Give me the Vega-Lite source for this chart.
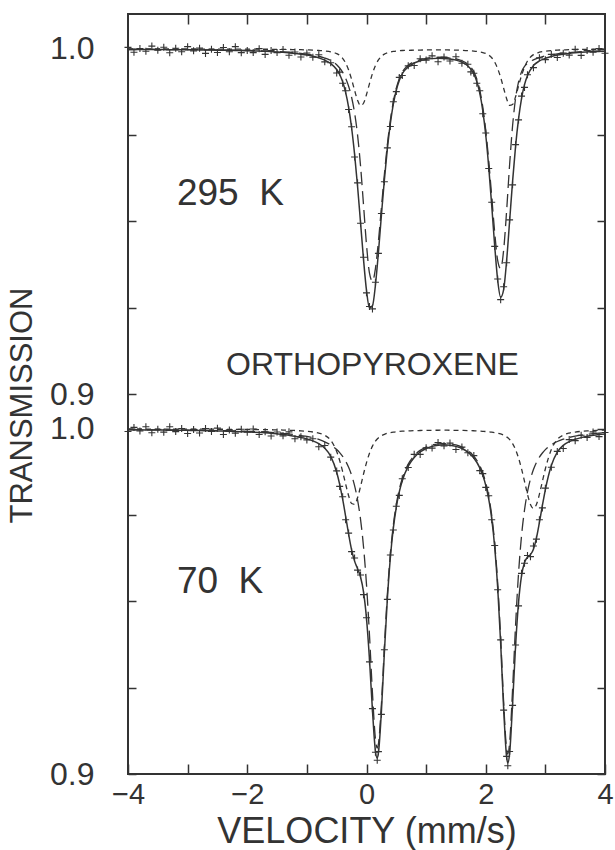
{
  "$schema": "https://vega.github.io/schema/vega-lite/v6.json",
  "width": 477,
  "height": 760,
  "autosize": {"type": "none"},
  "padding": {"left": 128, "top": 14, "right": 10, "bottom": 76},
  "background": "white",
  "config": {
    "font": "Liberation Sans",
    "view": {"stroke": "#333333", "strokeWidth": 2},
    "axis": {"grid": false, "domain": false, "tickColor": "#333333", "tickWidth": 1.5, "labelColor": "#333333", "titleColor": "#333333", "labelFont": "Liberation Sans", "titleFont": "Liberation Sans", "titleFontWeight": "normal"}
  },
  "datasets": {
    "spec": [
      {"p":"A","v":-4.0,"o":1.00044,"f":0.99984,"m":0.99986,"n":0.99998},
      {"p":"A","v":-3.9,"o":0.99903,"f":0.99983,"m":0.99985,"n":0.99998},
      {"p":"A","v":-3.8,"o":1.00012,"f":0.99982,"m":0.99984,"n":0.99998},
      {"p":"A","v":-3.7,"o":0.99931,"f":0.99981,"m":0.99983,"n":0.99998},
      {"p":"A","v":-3.6,"o":1.0008,"f":0.9998,"m":0.99983,"n":0.99997},
      {"p":"A","v":-3.5,"o":0.99959,"f":0.99979,"m":0.99982,"n":0.99997},
      {"p":"A","v":-3.4,"o":1.00048,"f":0.99978,"m":0.99981,"n":0.99997},
      {"p":"A","v":-3.3,"o":0.99887,"f":0.99977,"m":0.9998,"n":0.99997},
      {"p":"A","v":-3.2,"o":1.00016,"f":0.99976,"m":0.9998,"n":0.99996},
      {"p":"A","v":-3.1,"o":0.99915,"f":0.99975,"m":0.99979,"n":0.99996},
      {"p":"A","v":-3.0,"o":1.00064,"f":0.99974,"m":0.99978,"n":0.99996},
      {"p":"A","v":-2.9,"o":0.99942,"f":0.99972,"m":0.99976,"n":0.99996},
      {"p":"A","v":-2.8,"o":1.0002,"f":0.9997,"m":0.99975,"n":0.99995},
      {"p":"A","v":-2.7,"o":0.99868,"f":0.99968,"m":0.99973,"n":0.99995},
      {"p":"A","v":-2.6,"o":0.99986,"f":0.99966,"m":0.99971,"n":0.99995},
      {"p":"A","v":-2.5,"o":0.99893,"f":0.99963,"m":0.99969,"n":0.99994},
      {"p":"A","v":-2.4,"o":1.0004,"f":0.9996,"m":0.99966,"n":0.99994},
      {"p":"A","v":-2.3,"o":0.99917,"f":0.99957,"m":0.99964,"n":0.99993},
      {"p":"A","v":-2.2,"o":1.00064,"f":0.99954,"m":0.99961,"n":0.99993},
      {"p":"A","v":-2.1,"o":0.9989,"f":0.9995,"m":0.99958,"n":0.99992},
      {"p":"A","v":-2.0,"o":0.99956,"f":0.99946,"m":0.99954,"n":0.99992},
      {"p":"A","v":-1.9,"o":0.99891,"f":0.99941,"m":0.9995,"n":0.99991},
      {"p":"A","v":-1.8,"o":1.00006,"f":0.99936,"m":0.99946,"n":0.9999},
      {"p":"A","v":-1.7,"o":0.9984,"f":0.9993,"m":0.99941,"n":0.99989},
      {"p":"A","v":-1.6,"o":0.99951,"f":0.99921,"m":0.99933,"n":0.99988},
      {"p":"A","v":-1.5,"o":0.99891,"f":0.99911,"m":0.99924,"n":0.99987},
      {"p":"A","v":-1.4,"o":0.9998,"f":0.999,"m":0.99915,"n":0.99985},
      {"p":"A","v":-1.3,"o":0.99815,"f":0.99885,"m":0.99903,"n":0.99982},
      {"p":"A","v":-1.2,"o":0.99908,"f":0.99868,"m":0.99889,"n":0.99979},
      {"p":"A","v":-1.1,"o":0.99766,"f":0.99846,"m":0.99871,"n":0.99975},
      {"p":"A","v":-1.0,"o":0.9988,"f":0.9982,"m":0.9985,"n":0.9997},
      {"p":"A","v":-0.9,"o":0.99756,"f":0.99786,"m":0.99823,"n":0.99963},
      {"p":"A","v":-0.8,"o":0.99829,"f":0.99739,"m":0.99786,"n":0.99953},
      {"p":"A","v":-0.7,"o":0.99624,"f":0.99674,"m":0.99735,"n":0.99939},
      {"p":"A","v":-0.6,"o":0.99596,"f":0.99576,"m":0.99662,"n":0.99914},
      {"p":"A","v":-0.5,"o":0.99302,"f":0.99402,"m":0.9954,"n":0.99862},
      {"p":"A","v":-0.45,"o":0.99327,"f":0.99257,"m":0.99446,"n":0.99811},
      {"p":"A","v":-0.4,"o":0.99005,"f":0.99045,"m":0.9932,"n":0.99725},
      {"p":"A","v":-0.35,"o":0.98788,"f":0.98738,"m":0.99148,"n":0.9959},
      {"p":"A","v":-0.3,"o":0.98245,"f":0.98305,"m":0.98918,"n":0.99387},
      {"p":"A","v":-0.25,"o":0.97744,"f":0.97714,"m":0.98598,"n":0.99116},
      {"p":"A","v":-0.2,"o":0.96868,"f":0.96948,"m":0.98147,"n":0.98801},
      {"p":"A","v":-0.15,"o":0.96118,"f":0.96018,"m":0.97508,"n":0.9851},
      {"p":"A","v":-0.1,"o":0.94946,"f":0.94966,"m":0.96611,"n":0.98355},
      {"p":"A","v":-0.05,"o":0.93962,"f":0.93902,"m":0.95478,"n":0.98424},
      {"p":"A","v":0.0,"o":0.92931,"f":0.93001,"m":0.94325,"n":0.98676},
      {"p":"A","v":0.05,"o":0.92536,"f":0.92496,"m":0.93503,"n":0.98993},
      {"p":"A","v":0.1,"o":0.92465,"f":0.92555,"m":0.93269,"n":0.99286},
      {"p":"A","v":0.15,"o":0.93236,"f":0.93156,"m":0.93639,"n":0.99517},
      {"p":"A","v":0.2,"o":0.94075,"f":0.94105,"m":0.94426,"n":0.99679},
      {"p":"A","v":0.25,"o":0.95229,"f":0.95179,"m":0.95396,"n":0.99783},
      {"p":"A","v":0.3,"o":0.9615,"f":0.9621,"m":0.96363,"n":0.99847},
      {"p":"A","v":0.35,"o":0.9713,"f":0.9711,"m":0.97225,"n":0.99885},
      {"p":"A","v":0.4,"o":0.97749,"f":0.97839,"m":0.9793,"n":0.99909},
      {"p":"A","v":0.45,"o":0.98466,"f":0.98396,"m":0.98471,"n":0.99925},
      {"p":"A","v":0.5,"o":0.98761,"f":0.98801,"m":0.98864,"n":0.99937},
      {"p":"A","v":0.55,"o":0.99173,"f":0.99083,"m":0.99137,"n":0.99946},
      {"p":"A","v":0.6,"o":0.99229,"f":0.99279,"m":0.99326,"n":0.99953},
      {"p":"A","v":0.7,"o":0.99508,"f":0.99478,"m":0.99522,"n":0.99956},
      {"p":"A","v":0.8,"o":0.9952,"f":0.9959,"m":0.99628,"n":0.99962},
      {"p":"A","v":0.9,"o":0.99715,"f":0.99655,"m":0.99689,"n":0.99966},
      {"p":"A","v":1.0,"o":0.99675,"f":0.99695,"m":0.99726,"n":0.99969},
      {"p":"A","v":1.1,"o":0.99797,"f":0.99717,"m":0.99747,"n":0.9997},
      {"p":"A","v":1.2,"o":0.99627,"f":0.99727,"m":0.99757,"n":0.9997},
      {"p":"A","v":1.3,"o":0.99764,"f":0.99724,"m":0.99755,"n":0.99969},
      {"p":"A","v":1.4,"o":0.99647,"f":0.99707,"m":0.9974,"n":0.99967},
      {"p":"A","v":1.5,"o":0.99773,"f":0.99673,"m":0.99709,"n":0.99964},
      {"p":"A","v":1.6,"o":0.99584,"f":0.99614,"m":0.99656,"n":0.99958},
      {"p":"A","v":1.7,"o":0.99555,"f":0.99505,"m":0.99556,"n":0.99949},
      {"p":"A","v":1.75,"o":0.99333,"f":0.99413,"m":0.9947,"n":0.99943},
      {"p":"A","v":1.8,"o":0.99293,"f":0.99273,"m":0.99338,"n":0.99935},
      {"p":"A","v":1.85,"o":0.99003,"f":0.99053,"m":0.99128,"n":0.99925},
      {"p":"A","v":1.9,"o":0.98786,"f":0.98716,"m":0.98804,"n":0.99912},
      {"p":"A","v":1.95,"o":0.98122,"f":0.98212,"m":0.98318,"n":0.99894},
      {"p":"A","v":2.0,"o":0.97563,"f":0.97503,"m":0.97637,"n":0.99866},
      {"p":"A","v":2.05,"o":0.96535,"f":0.96575,"m":0.96756,"n":0.99819},
      {"p":"A","v":2.1,"o":0.95556,"f":0.95466,"m":0.95724,"n":0.99742},
      {"p":"A","v":2.15,"o":0.94276,"f":0.94296,"m":0.9468,"n":0.99616},
      {"p":"A","v":2.2,"o":0.9333,"f":0.933,"m":0.93873,"n":0.99427},
      {"p":"A","v":2.25,"o":0.92734,"f":0.92804,"m":0.93634,"n":0.9917},
      {"p":"A","v":2.3,"o":0.93106,"f":0.93026,"m":0.94166,"n":0.9886},
      {"p":"A","v":2.35,"o":0.93804,"f":0.93864,"m":0.95308,"n":0.98556},
      {"p":"A","v":2.4,"o":0.95045,"f":0.95005,"m":0.96641,"n":0.98364},
      {"p":"A","v":2.45,"o":0.9606,"f":0.9616,"m":0.97772,"n":0.98388},
      {"p":"A","v":2.5,"o":0.97224,"f":0.97174,"m":0.98562,"n":0.98612},
      {"p":"A","v":2.55,"o":0.97941,"f":0.97971,"m":0.99046,"n":0.98925},
      {"p":"A","v":2.6,"o":0.98631,"f":0.98561,"m":0.99333,"n":0.99228},
      {"p":"A","v":2.65,"o":0.98883,"f":0.98963,"m":0.99491,"n":0.99472},
      {"p":"A","v":2.7,"o":0.99249,"f":0.99229,"m":0.99581,"n":0.99648},
      {"p":"A","v":2.8,"o":0.99455,"f":0.99515,"m":0.99682,"n":0.99833},
      {"p":"A","v":2.9,"o":0.99739,"f":0.99649,"m":0.99747,"n":0.99902},
      {"p":"A","v":3.0,"o":0.99688,"f":0.99728,"m":0.99796,"n":0.99932},
      {"p":"A","v":3.1,"o":0.99841,"f":0.99781,"m":0.9983,"n":0.99951},
      {"p":"A","v":3.2,"o":0.99749,"f":0.99819,"m":0.99856,"n":0.99963},
      {"p":"A","v":3.3,"o":0.99876,"f":0.99846,"m":0.99876,"n":0.9997},
      {"p":"A","v":3.4,"o":0.99819,"f":0.99869,"m":0.99893,"n":0.99976},
      {"p":"A","v":3.5,"o":0.99986,"f":0.99886,"m":0.99906,"n":0.9998},
      {"p":"A","v":3.6,"o":0.9981,"f":0.999,"m":0.99917,"n":0.99983},
      {"p":"A","v":3.7,"o":0.99951,"f":0.99911,"m":0.99925,"n":0.99986},
      {"p":"A","v":3.8,"o":0.999,"f":0.9992,"m":0.99932,"n":0.99988},
      {"p":"A","v":3.9,"o":1.00007,"f":0.99927,"m":0.99937,"n":0.9999},
      {"p":"A","v":4.0,"o":0.99874,"f":0.99934,"m":0.99943,"n":0.99991},
      {"p":"B","v":-4.0,"o":0.99924,"f":0.99974,"m":0.99978,"n":0.99996},
      {"p":"B","v":-3.9,"o":1.00043,"f":0.99973,"m":0.99977,"n":0.99996},
      {"p":"B","v":-3.8,"o":0.99941,"f":0.99971,"m":0.99975,"n":0.99996},
      {"p":"B","v":-3.7,"o":1.0006,"f":0.9997,"m":0.99974,"n":0.99995},
      {"p":"B","v":-3.6,"o":0.99888,"f":0.99968,"m":0.99973,"n":0.99995},
      {"p":"B","v":-3.5,"o":0.99986,"f":0.99966,"m":0.99971,"n":0.99995},
      {"p":"B","v":-3.4,"o":0.99904,"f":0.99964,"m":0.9997,"n":0.99994},
      {"p":"B","v":-3.3,"o":1.00062,"f":0.99962,"m":0.99968,"n":0.99994},
      {"p":"B","v":-3.2,"o":0.99921,"f":0.99961,"m":0.99967,"n":0.99993},
      {"p":"B","v":-3.1,"o":1.00009,"f":0.99959,"m":0.99966,"n":0.99993},
      {"p":"B","v":-3.0,"o":0.99867,"f":0.99957,"m":0.99964,"n":0.99993},
      {"p":"B","v":-2.9,"o":0.99984,"f":0.99954,"m":0.99962,"n":0.99992},
      {"p":"B","v":-2.8,"o":0.99881,"f":0.99951,"m":0.99959,"n":0.99992},
      {"p":"B","v":-2.7,"o":1.00008,"f":0.99948,"m":0.99957,"n":0.99991},
      {"p":"B","v":-2.6,"o":0.99924,"f":0.99944,"m":0.99954,"n":0.9999},
      {"p":"B","v":-2.5,"o":1.0002,"f":0.9994,"m":0.99951,"n":0.99989},
      {"p":"B","v":-2.4,"o":0.99835,"f":0.99935,"m":0.99947,"n":0.99988},
      {"p":"B","v":-2.3,"o":0.9997,"f":0.9993,"m":0.99943,"n":0.99987},
      {"p":"B","v":-2.2,"o":0.99875,"f":0.99925,"m":0.99939,"n":0.99986},
      {"p":"B","v":-2.1,"o":0.99989,"f":0.99919,"m":0.99934,"n":0.99985},
      {"p":"B","v":-2.0,"o":0.99903,"f":0.99913,"m":0.99929,"n":0.99984},
      {"p":"B","v":-1.9,"o":0.99995,"f":0.99905,"m":0.99923,"n":0.99982},
      {"p":"B","v":-1.8,"o":0.99837,"f":0.99897,"m":0.99917,"n":0.9998},
      {"p":"B","v":-1.7,"o":0.99917,"f":0.99887,"m":0.99909,"n":0.99978},
      {"p":"B","v":-1.6,"o":0.99794,"f":0.99874,"m":0.99899,"n":0.99975},
      {"p":"B","v":-1.5,"o":0.99907,"f":0.99857,"m":0.99886,"n":0.99971},
      {"p":"B","v":-1.4,"o":0.99798,"f":0.99838,"m":0.99872,"n":0.99966},
      {"p":"B","v":-1.3,"o":0.99913,"f":0.99813,"m":0.99853,"n":0.9996},
      {"p":"B","v":-1.2,"o":0.99715,"f":0.99785,"m":0.99833,"n":0.99952},
      {"p":"B","v":-1.1,"o":0.99769,"f":0.99749,"m":0.99807,"n":0.99942},
      {"p":"B","v":-1.0,"o":0.9968,"f":0.9971,"m":0.99781,"n":0.99929},
      {"p":"B","v":-0.9,"o":0.99712,"f":0.99652,"m":0.99743,"n":0.99909},
      {"p":"B","v":-0.8,"o":0.9948,"f":0.9957,"m":0.99693,"n":0.99877},
      {"p":"B","v":-0.7,"o":0.99519,"f":0.99439,"m":0.99625,"n":0.99814},
      {"p":"B","v":-0.6,"o":0.99181,"f":0.99201,"m":0.99533,"n":0.99668},
      {"p":"B","v":-0.5,"o":0.98782,"f":0.98742,"m":0.994,"n":0.99342},
      {"p":"B","v":-0.45,"o":0.98333,"f":0.98393,"m":0.99311,"n":0.99082},
      {"p":"B","v":-0.4,"o":0.98033,"f":0.97963,"m":0.99202,"n":0.98761},
      {"p":"B","v":-0.35,"o":0.97366,"f":0.97466,"m":0.99064,"n":0.98402},
      {"p":"B","v":-0.3,"o":0.9698,"f":0.9695,"m":0.98887,"n":0.98063},
      {"p":"B","v":-0.25,"o":0.96444,"f":0.96494,"m":0.98658,"n":0.97837},
      {"p":"B","v":-0.2,"o":0.96258,"f":0.96168,"m":0.98354,"n":0.97814},
      {"p":"B","v":-0.15,"o":0.95908,"f":0.95948,"m":0.97943,"n":0.98005},
      {"p":"B","v":-0.1,"o":0.95767,"f":0.95707,"m":0.97377,"n":0.9833},
      {"p":"B","v":-0.05,"o":0.95197,"f":0.95277,"m":0.96586,"n":0.98691},
      {"p":"B","v":0.0,"o":0.94529,"f":0.94509,"m":0.95487,"n":0.99022},
      {"p":"B","v":0.05,"o":0.9325,"f":0.9332,"m":0.94027,"n":0.99293},
      {"p":"B","v":0.1,"o":0.91894,"f":0.91844,"m":0.92344,"n":0.995},
      {"p":"B","v":0.15,"o":0.90629,"f":0.90659,"m":0.91016,"n":0.99643},
      {"p":"B","v":0.18,"o":0.90398,"f":0.90458,"m":0.90752,"n":0.99706},
      {"p":"B","v":0.2,"o":0.90648,"f":0.90608,"m":0.9087,"n":0.99738},
      {"p":"B","v":0.25,"o":0.91729,"f":0.91819,"m":0.92018,"n":0.99801},
      {"p":"B","v":0.3,"o":0.936,"f":0.9353,"m":0.93687,"n":0.99843},
      {"p":"B","v":0.35,"o":0.9506,"f":0.9508,"m":0.95209,"n":0.99871},
      {"p":"B","v":0.4,"o":0.96344,"f":0.96264,"m":0.96375,"n":0.9989},
      {"p":"B","v":0.45,"o":0.9707,"f":0.9712,"m":0.97216,"n":0.99904},
      {"p":"B","v":0.5,"o":0.97759,"f":0.97729,"m":0.97814,"n":0.99915},
      {"p":"B","v":0.55,"o":0.98072,"f":0.98172,"m":0.98248,"n":0.99924},
      {"p":"B","v":0.6,"o":0.98555,"f":0.98495,"m":0.98563,"n":0.99932},
      {"p":"B","v":0.7,"o":0.98879,"f":0.98919,"m":0.98979,"n":0.9994},
      {"p":"B","v":0.8,"o":0.99262,"f":0.99172,"m":0.99225,"n":0.99947},
      {"p":"B","v":0.9,"o":0.9926,"f":0.9933,"m":0.99377,"n":0.99953},
      {"p":"B","v":1.0,"o":0.9945,"f":0.9943,"m":0.99473,"n":0.99957},
      {"p":"B","v":1.1,"o":0.99442,"f":0.99492,"m":0.99533,"n":0.99959},
      {"p":"B","v":1.2,"o":0.99605,"f":0.99525,"m":0.99565,"n":0.9996},
      {"p":"B","v":1.3,"o":0.99507,"f":0.99537,"m":0.99576,"n":0.99961},
      {"p":"B","v":1.4,"o":0.99587,"f":0.99527,"m":0.99567,"n":0.9996},
      {"p":"B","v":1.5,"o":0.99403,"f":0.99493,"m":0.99535,"n":0.99958},
      {"p":"B","v":1.6,"o":0.99471,"f":0.99431,"m":0.99475,"n":0.99956},
      {"p":"B","v":1.7,"o":0.99306,"f":0.99326,"m":0.99375,"n":0.99951},
      {"p":"B","v":1.8,"o":0.99225,"f":0.99155,"m":0.9921,"n":0.99945},
      {"p":"B","v":1.9,"o":0.9879,"f":0.9887,"m":0.98934,"n":0.99936},
      {"p":"B","v":1.95,"o":0.98704,"f":0.98654,"m":0.98724,"n":0.9993},
      {"p":"B","v":2.0,"o":0.98304,"f":0.98364,"m":0.98441,"n":0.99923},
      {"p":"B","v":2.05,"o":0.98062,"f":0.97962,"m":0.98047,"n":0.99915},
      {"p":"B","v":2.1,"o":0.97366,"f":0.97396,"m":0.97491,"n":0.99905},
      {"p":"B","v":2.15,"o":0.96619,"f":0.96579,"m":0.96687,"n":0.99892},
      {"p":"B","v":2.2,"o":0.95339,"f":0.95409,"m":0.95534,"n":0.99875},
      {"p":"B","v":2.25,"o":0.93885,"f":0.93795,"m":0.93943,"n":0.99852},
      {"p":"B","v":2.3,"o":0.9185,"f":0.919,"m":0.92082,"n":0.99818},
      {"p":"B","v":2.35,"o":0.90511,"f":0.90491,"m":0.90724,"n":0.99767},
      {"p":"B","v":2.37,"o":0.9024,"f":0.9032,"m":0.9058,"n":0.9974},
      {"p":"B","v":2.4,"o":0.90652,"f":0.90592,"m":0.90901,"n":0.99691},
      {"p":"B","v":2.45,"o":0.91988,"f":0.92028,"m":0.92457,"n":0.99571},
      {"p":"B","v":2.5,"o":0.93738,"f":0.93708,"m":0.9431,"n":0.99398},
      {"p":"B","v":2.55,"o":0.94872,"f":0.94972,"m":0.95818,"n":0.99154},
      {"p":"B","v":2.6,"o":0.95813,"f":0.95743,"m":0.96899,"n":0.98844},
      {"p":"B","v":2.65,"o":0.96108,"f":0.96128,"m":0.97649,"n":0.98479},
      {"p":"B","v":2.7,"o":0.96332,"f":0.96282,"m":0.98175,"n":0.98107},
      {"p":"B","v":2.75,"o":0.96297,"f":0.96357,"m":0.98547,"n":0.9781},
      {"p":"B","v":2.8,"o":0.96605,"f":0.96515,"m":0.98821,"n":0.97694},
      {"p":"B","v":2.85,"o":0.96804,"f":0.96834,"m":0.99024,"n":0.9781},
      {"p":"B","v":2.9,"o":0.97367,"f":0.97287,"m":0.9918,"n":0.98107},
      {"p":"B","v":2.95,"o":0.9771,"f":0.9778,"m":0.99301,"n":0.98479},
      {"p":"B","v":3.0,"o":0.98282,"f":0.98242,"m":0.99398,"n":0.98844},
      {"p":"B","v":3.1,"o":0.98888,"f":0.98938,"m":0.99538,"n":0.994},
      {"p":"B","v":3.2,"o":0.99347,"f":0.99327,"m":0.99634,"n":0.99693},
      {"p":"B","v":3.3,"o":0.99432,"f":0.99522,"m":0.99702,"n":0.9982},
      {"p":"B","v":3.4,"o":0.99689,"f":0.99629,"m":0.99751,"n":0.99878},
      {"p":"B","v":3.5,"o":0.99658,"f":0.99698,"m":0.9979,"n":0.99908},
      {"p":"B","v":3.6,"o":0.99816,"f":0.99746,"m":0.99819,"n":0.99927},
      {"p":"B","v":3.7,"o":0.99753,"f":0.99783,"m":0.99842,"n":0.99941},
      {"p":"B","v":3.8,"o":0.99912,"f":0.99812,"m":0.99861,"n":0.99951},
      {"p":"B","v":3.9,"o":0.99775,"f":0.99835,"m":0.99877,"n":0.99958},
      {"p":"B","v":4.0,"o":0.99893,"f":0.99853,"m":0.99889,"n":0.99964}
    ],
    "temps": [
      {"p":"A","t":"295\u00a0 K","v":-3.18,"y":0.95475},
      {"p":"B","t":"70\u00a0 K","v":-3.18,"y":0.95246}
    ],
    "sample": [
      {"t":"ORTHOPYROXENE","v":0.1,"y":0.90548}
    ]
  },
  "resolve": {"scale": {"x": "independent", "y": "independent"}, "axis": {"x": "independent", "y": "independent"}},
  "layer": [
    {
      "data": {"name": "spec"},
      "transform": [{"filter": "datum.p == 'A'"}],
      "mark": {"type": "line", "color": "#333333", "strokeWidth": 1.3, "strokeDash": [5, 4], "interpolate": "monotone"},
      "encoding": {
        "x": {"field": "v", "type": "quantitative", "scale": {"domain": [-4, 4], "nice": false, "zero": false}, "axis": null},
        "y": {"field": "n", "type": "quantitative", "scale": {"domain": [0.9, 1.0101], "range": [380, 0], "nice": false, "zero": false}, "axis": null}
      }
    },
    {
      "data": {"name": "spec"},
      "transform": [{"filter": "datum.p == 'A'"}],
      "mark": {"type": "line", "color": "#333333", "strokeWidth": 1.3, "strokeDash": [13, 6], "interpolate": "monotone"},
      "encoding": {
        "x": {"field": "v", "type": "quantitative", "scale": {"domain": [-4, 4], "nice": false, "zero": false}, "axis": null},
        "y": {"field": "m", "type": "quantitative", "scale": {"domain": [0.9, 1.0101], "range": [380, 0], "nice": false, "zero": false}, "axis": null}
      }
    },
    {
      "data": {"name": "spec"},
      "transform": [{"filter": "datum.p == 'A'"}],
      "mark": {"type": "point", "shape": "M-1,0L1,0M0,-1L0,1", "filled": false, "size": 49, "strokeWidth": 1.1, "color": "#333333", "opacity": 1},
      "encoding": {
        "x": {"field": "v", "type": "quantitative", "scale": {"domain": [-4, 4], "nice": false, "zero": false},
              "axis": {"orient": "top", "values": [-3, -2, -1, 0, 1, 2, 3], "tickSize": -10, "labels": false, "title": null}},
        "y": {"field": "o", "type": "quantitative", "scale": {"domain": [0.9, 1.0101], "range": [380, 0], "nice": false, "zero": false},
              "axis": {"orient": "left", "values": [0.9, 0.925, 0.95, 0.975, 1.0], "tickSize": -8,
                       "labelExpr": "datum.value == 0.9 || datum.value == 1 ? format(datum.value, '.1f') : ''",
                       "labelFontSize": 32, "labelPadding": 42, "labelOverlap": false, "labelBound": false,
                       "title": "TRANSMISSION", "titleFontSize": 31, "titleAngle": 270, "titleAlign": "center", "titleBaseline": "alphabetic", "titleX": -97, "titleY": 391}}
      }
    },
    {
      "data": {"name": "spec"},
      "transform": [{"filter": "datum.p == 'A'"}],
      "mark": {"type": "line", "color": "#333333", "strokeWidth": 1.5, "interpolate": "monotone"},
      "encoding": {
        "x": {"field": "v", "type": "quantitative", "scale": {"domain": [-4, 4], "nice": false, "zero": false}, "axis": null},
        "y": {"field": "f", "type": "quantitative", "scale": {"domain": [0.9, 1.0101], "range": [380, 0], "nice": false, "zero": false}, "axis": null}
      }
    },
    {
      "mark": {"type": "rule", "color": "#333333", "strokeWidth": 1.3, "strokeDash": [10, 7]},
      "encoding": {
        "y": {"datum": 0.9, "type": "quantitative", "scale": {"domain": [0.9, 1.0101], "range": [380, 0], "nice": false, "zero": false},
              "axis": {"orient": "right", "values": [0.9, 0.925, 0.95, 0.975, 1.0], "tickSize": -8, "labels": false, "title": null}}
      }
    },
    {
      "data": {"name": "temps"},
      "transform": [{"filter": "datum.p == 'A'"}],
      "mark": {"type": "text", "align": "left", "baseline": "alphabetic", "fontSize": 37, "color": "#333333", "font": "Liberation Sans"},
      "encoding": {
        "x": {"field": "v", "type": "quantitative", "scale": {"domain": [-4, 4], "nice": false, "zero": false}, "axis": null},
        "y": {"field": "y", "type": "quantitative", "scale": {"domain": [0.9, 1.0101], "range": [380, 0], "nice": false, "zero": false}, "axis": null},
        "text": {"field": "t"}
      }
    },
    {
      "data": {"name": "sample"},
      "mark": {"type": "text", "align": "center", "baseline": "alphabetic", "fontSize": 32, "color": "#333333", "font": "Liberation Sans"},
      "encoding": {
        "x": {"field": "v", "type": "quantitative", "scale": {"domain": [-4, 4], "nice": false, "zero": false}, "axis": null},
        "y": {"field": "y", "type": "quantitative", "scale": {"domain": [0.9, 1.0101], "range": [380, 0], "nice": false, "zero": false}, "axis": null},
        "text": {"field": "t"}
      }
    },
    {
      "data": {"name": "spec"},
      "transform": [{"filter": "datum.p == 'B'"}],
      "mark": {"type": "line", "color": "#333333", "strokeWidth": 1.3, "strokeDash": [5, 4], "interpolate": "monotone"},
      "encoding": {
        "x": {"field": "v", "type": "quantitative", "scale": {"domain": [-4, 4], "nice": false, "zero": false}, "axis": null},
        "y": {"field": "n", "type": "quantitative", "scale": {"domain": [0.9, 1.0101], "range": [760, 380], "nice": false, "zero": false}, "axis": null}
      }
    },
    {
      "data": {"name": "spec"},
      "transform": [{"filter": "datum.p == 'B'"}],
      "mark": {"type": "line", "color": "#333333", "strokeWidth": 1.3, "strokeDash": [13, 6], "interpolate": "monotone"},
      "encoding": {
        "x": {"field": "v", "type": "quantitative", "scale": {"domain": [-4, 4], "nice": false, "zero": false}, "axis": null},
        "y": {"field": "m", "type": "quantitative", "scale": {"domain": [0.9, 1.0101], "range": [760, 380], "nice": false, "zero": false}, "axis": null}
      }
    },
    {
      "data": {"name": "spec"},
      "transform": [{"filter": "datum.p == 'B'"}],
      "mark": {"type": "point", "shape": "M-1,0L1,0M0,-1L0,1", "filled": false, "size": 49, "strokeWidth": 1.1, "color": "#333333", "opacity": 1},
      "encoding": {
        "x": {"field": "v", "type": "quantitative", "scale": {"domain": [-4, 4], "nice": false, "zero": false},
              "axis": {"orient": "bottom", "values": [-4, -3, -2, -1, 0, 1, 2, 3, 4], "tickSize": -10,
                       "labelExpr": "datum.value % 2 == 0 ? datum.label : ''",
                       "labelFontSize": 29, "labelPadding": 16, "labelFlush": false, "labelOverlap": false, "labelBound": false,
                       "title": "VELOCITY (mm/s)", "titleFontSize": 36, "titleBaseline": "alphabetic", "titleY": 68}},
        "y": {"field": "o", "type": "quantitative", "scale": {"domain": [0.9, 1.0101], "range": [760, 380], "nice": false, "zero": false},
              "axis": {"orient": "left", "values": [0.9, 0.925, 0.95, 0.975, 1.0], "tickSize": -8,
                       "labelExpr": "datum.value == 0.9 || datum.value == 1 ? format(datum.value, '.1f') : ''",
                       "labelFontSize": 32, "labelPadding": 42, "labelOverlap": false, "labelBound": false, "title": null}}
      }
    },
    {
      "data": {"name": "spec"},
      "transform": [{"filter": "datum.p == 'B'"}],
      "mark": {"type": "line", "color": "#333333", "strokeWidth": 1.5, "interpolate": "monotone"},
      "encoding": {
        "x": {"field": "v", "type": "quantitative", "scale": {"domain": [-4, 4], "nice": false, "zero": false}, "axis": null},
        "y": {"field": "f", "type": "quantitative", "scale": {"domain": [0.9, 1.0101], "range": [760, 380], "nice": false, "zero": false}, "axis": null}
      }
    },
    {
      "data": {"name": "temps"},
      "transform": [{"filter": "datum.p == 'B'"}],
      "mark": {"type": "text", "align": "left", "baseline": "alphabetic", "fontSize": 37, "color": "#333333", "font": "Liberation Sans"},
      "encoding": {
        "x": {"field": "v", "type": "quantitative", "scale": {"domain": [-4, 4], "nice": false, "zero": false}, "axis": null},
        "y": {"field": "y", "type": "quantitative", "scale": {"domain": [0.9, 1.0101], "range": [760, 380], "nice": false, "zero": false},
              "axis": {"orient": "right", "values": [0.9, 0.925, 0.95, 0.975, 1.0], "tickSize": -8, "labels": false, "title": null}},
        "text": {"field": "t"}
      }
    }
  ]
}
